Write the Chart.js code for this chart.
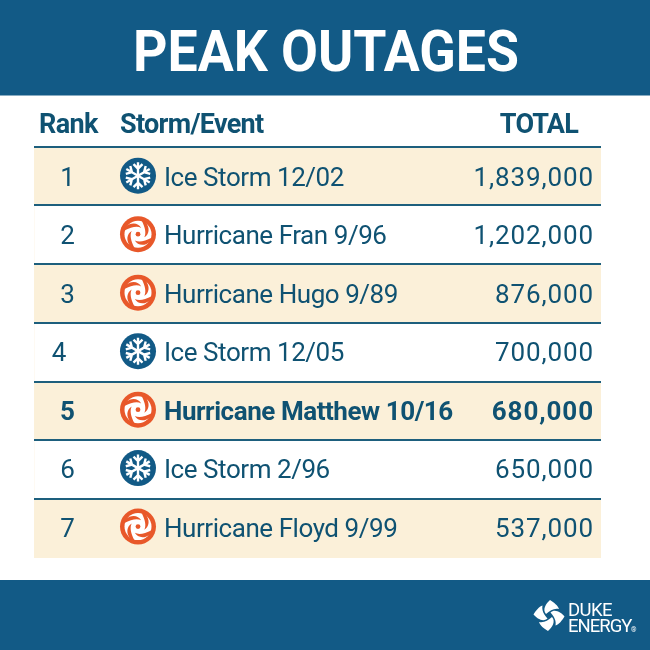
<!DOCTYPE html>
<html><head><meta charset="utf-8">
<style>html,body{margin:0;padding:0;background:#fff}canvas{display:block}</style>
<script src="https://cdn.jsdelivr.net/npm/chart.js@4"></script></head>
<body><canvas id="c" width="650" height="650"></canvas>
<script>
const titleText = "PEAK OUTAGES";
const headers = ["Rank", "Storm/Event", "TOTAL"];
const ranks = ["1", "2", "3", "4", "5", "6", "7"];
const events = ["Ice Storm 12/02", "Hurricane Fran 9/96", "Hurricane Hugo 9/89", "Ice Storm 12/05", "Hurricane Matthew 10/16", "Ice Storm 2/96", "Hurricane Floyd 9/99"];
const eventTypes = ["ice", "hurricane", "hurricane", "ice", "hurricane", "ice", "hurricane"];
const totals = [1839000, 1202000, 876000, 700000, 680000, 650000, 537000];
const highlighted = [false, false, false, false, true, false, false];
const logoLines = ["DUKE", "ENERGY"];

const BLUE = "#125a86", INK = "#0f5272", CREAM = "#fbf0d9", ORANGE = "#e8582a", LINE = "#1d5f7d";
const FAMILY = "Roboto, 'Liberation Sans', sans-serif";
const maxTotal = Math.max(...totals);

function text(ctx, s, x, y, font, color, align, spacing) {
  ctx.font = font; ctx.fillStyle = color; ctx.textAlign = align || "left"; ctx.textBaseline = "alphabetic";
  ctx.letterSpacing = (spacing || 0) + "px";
  ctx.fillText(s, x, y);
  ctx.letterSpacing = "0px";
}
function snowflake(ctx, cx, cy) {
  ctx.save(); ctx.translate(cx, cy);
  ctx.fillStyle = BLUE; ctx.beginPath(); ctx.arc(0, 0, 18, 0, Math.PI * 2); ctx.fill();
  ctx.strokeStyle = "#fff"; ctx.lineWidth = 2.4; ctx.lineCap = "butt";
  for (let i = 0; i < 6; i++) {
    ctx.save(); ctx.rotate(i * Math.PI / 6 * 2);
    ctx.beginPath(); ctx.moveTo(0, 0); ctx.lineTo(0, -13.5);
    ctx.moveTo(-4.5, -11.5); ctx.lineTo(0, -7); ctx.lineTo(4.5, -11.5);
    ctx.stroke(); ctx.restore();
  }
  ctx.restore();
}
function hurricane(ctx, cx, cy) {
  ctx.save(); ctx.translate(cx, cy);
  ctx.fillStyle = ORANGE; ctx.beginPath(); ctx.arc(0, 0, 18, 0, Math.PI * 2); ctx.fill();
  ctx.fillStyle = "#fff"; ctx.beginPath(); ctx.arc(0, 0, 13.5, 0, Math.PI * 2); ctx.fill();
  ctx.fillStyle = ORANGE;
  for (let i = 0; i < 4; i++) {
    ctx.save(); ctx.rotate(i * Math.PI / 2 + 0.4);
    ctx.beginPath(); ctx.moveTo(1.5, -14.5);
    ctx.bezierCurveTo(9, -11, 10.5, -4, 7, 0.5);
    ctx.bezierCurveTo(7.5, -4, 4, -9, -2, -14);
    ctx.closePath(); ctx.fill(); ctx.restore();
  }
  ctx.beginPath(); ctx.arc(0, 0, 2.4, 0, Math.PI * 2); ctx.fill();
  ctx.restore();
}
function logoMark(ctx, cx, cy) {
  ctx.save(); ctx.translate(cx, cy); ctx.fillStyle = "#fff";
  for (let i = 0; i < 4; i++) {
    ctx.save(); ctx.rotate(i * Math.PI / 2);
    ctx.beginPath(); ctx.moveTo(-3, -1.5);
    ctx.bezierCurveTo(-7, -6, -3, -12, 1, -15.5);
    ctx.bezierCurveTo(5, -13, 9, -10, 10, -6.5);
    ctx.bezierCurveTo(5, -7.5, 1, -5, -3, -1.5);
    ctx.closePath(); ctx.fill(); ctx.restore();
  }
  ctx.restore();
}
const tablePlugin = {
  id: "tablePlugin",
  beforeDraw(chart) {
    const ctx = chart.ctx;
    ctx.save();
    ctx.fillStyle = BLUE;
    ctx.fillRect(0, 0, 650, 95.5);
    ctx.fillRect(0, 580, 650, 70);
    ctx.restore();
  },
  afterDraw(chart) {
    const ctx = chart.ctx, y = chart.scales.y;
    ctx.save();
    ctx.save();
    ctx.translate(326, 0); ctx.scale(0.94, 1);
    text(ctx, titleText, 0, 71, `700 57px ${FAMILY}`, "#fff", "center", 0);
    ctx.restore();
    const hf = `700 27px ${FAMILY}`;
    text(ctx, headers[0], 39, 133, hf, INK, "left", -0.6);
    text(ctx, headers[1], 120, 133, hf, INK, "left", -0.7);
    text(ctx, headers[2], 578, 133, hf, INK, "right", -0.8);
    ranks.forEach((r, i) => {
      const cy = y.getPixelForValue(i) - 0.2 - 0.3 * i, base = cy + 10;
      const b = highlighted[i];
      const f = `${b ? 700 : 400} 26px ${FAMILY}`;
      text(ctx, r, r === "4" ? 59 : 67.5, base, f, INK, "center");
      (eventTypes[i] === "ice" ? snowflake : hurricane)(ctx, 138, cy);
      text(ctx, events[i], 164, base, f, INK, "left", -0.45);
      text(ctx, totals[i].toLocaleString("en-US"), 594, base, f, INK, "right", 0.9);
    });
    logoMark(ctx, 549, 615.5);
    text(ctx, logoLines[0], 568, 616, `400 18.5px ${FAMILY}`, "#fff", "left", -0.6);
    text(ctx, logoLines[1], 568, 632, `400 18.5px ${FAMILY}`, "#fff", "left", -1);
    text(ctx, "®", 631, 632, `400 7px ${FAMILY}`, "#fff");
    ctx.restore();
  }
};
new Chart(document.getElementById("c"), {
  type: "bar",
  data: {
    labels: events,
    datasets: [
      { label: "Total", data: totals, backgroundColor: "rgba(0,0,0,0)", grouped: false, order: 1 },
      { label: "Row shading", data: events.map((_, i) => i % 2 === 0 ? maxTotal : 0), backgroundColor: CREAM, grouped: false, order: 2 }
    ]
  },
  options: {
    indexAxis: "y", responsive: false, animation: false, devicePixelRatio: 1,
    layout: { padding: { left: 34, right: 49, top: 146.5, bottom: 92 } },
    datasets: { bar: { barPercentage: 1, categoryPercentage: 1 } },
    plugins: { legend: { display: false }, tooltip: { enabled: false }, title: { display: false } },
    scales: {
      x: { min: 0, max: maxTotal, display: false },
      y: {
        type: "category", offset: true, position: "left",
        border: { display: false },
        ticks: { display: false },
        grid: { z: 1, offset: true, drawTicks: false, lineWidth: 2, color: c => c.index === undefined ? "rgba(0,0,0,0)" : LINE }
      }
    }
  },
  plugins: [tablePlugin]
});
</script></body></html>
